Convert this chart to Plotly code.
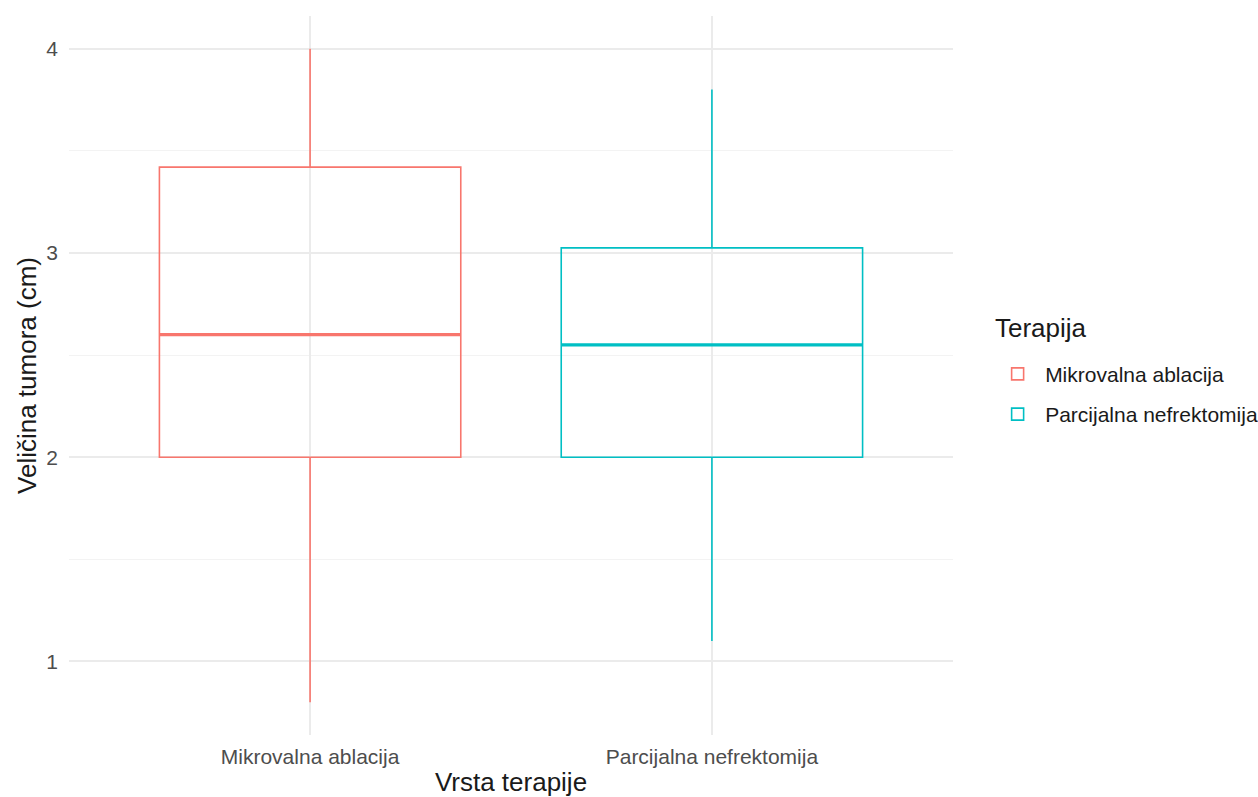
import plotly.graph_objects as go

categories = ["Mikrovalna ablacija", "Parcijalna nefrektomija"]
colors = ["#F8766D", "#00BFC4"]
lower_whisker = [0.80, 1.10]
q1 = [2.00, 2.00]
median = [2.60, 2.55]
q3 = [3.42, 3.025]
upper_whisker = [4.00, 3.80]
y_ticks = [1, 2, 3, 4]
legend_title = "Terapija"

box_width = 0.75
font_family = "Liberation Sans, Arial, sans-serif"

fig = go.Figure()
for i, cat in enumerate(categories):
    xpos = i + 1
    fig.add_trace(go.Box(
        x=[xpos], q1=[q1[i]], median=[median[i]], q3=[q3[i]],
        lowerfence=[lower_whisker[i]], upperfence=[upper_whisker[i]],
        name=cat, legendgroup=cat,
        line=dict(color=colors[i], width=1.6),
        fillcolor="rgba(255,255,255,0)",
        width=box_width, whiskerwidth=0, boxpoints=False,
    ))
    # thicker median line (ggplot fatten)
    fig.add_trace(go.Scatter(
        x=[xpos - box_width / 2, xpos + box_width / 2],
        y=[median[i], median[i]],
        mode="lines", line=dict(color=colors[i], width=3.2),
        showlegend=False, legendgroup=cat, hoverinfo="skip",
    ))

fig.add_annotation(
    text=legend_title, xref="paper", yref="paper",
    x=1.045, y=0.566, xanchor="left", yanchor="middle",
    showarrow=False, font=dict(size=26, color="#1A1A1A"),
)

fig.update_layout(
    width=1258, height=797,
    paper_bgcolor="white", plot_bgcolor="white",
    margin=dict(l=69, r=305, t=16, b=62, autoexpand=False),
    boxmode="overlay",
    font=dict(family=font_family, color="#4D4D4D"),
    legend=dict(
        font=dict(size=21, color="#1A1A1A"),
        x=1.042, xanchor="left", y=0.474, yanchor="middle",
        tracegroupgap=10, itemwidth=45,
    ),
    xaxis=dict(
        range=[0.4, 2.6], tickvals=[1, 2], ticktext=categories,
        showgrid=True, gridcolor="#EBEBEB", gridwidth=1.6,
        zeroline=False, showline=False, ticks="",
        tickfont=dict(size=21, color="#4D4D4D"),
        ticklabelstandoff=7,
        title=dict(text="Vrsta terapije", font=dict(size=26, color="#1A1A1A"), standoff=10),
    ),
    yaxis=dict(
        range=[0.64, 4.16], tickvals=y_ticks,
        showgrid=True, gridcolor="#EBEBEB", gridwidth=1.6,
        minor=dict(tick0=0.5, dtick=1, showgrid=True, gridcolor="#F3F3F3", gridwidth=0.9),
        zeroline=False, showline=False, ticks="",
        tickfont=dict(size=21, color="#4D4D4D"),
        ticklabelstandoff=10,
        title=dict(text="Veličina tumora (cm)", font=dict(size=26, color="#1A1A1A"), standoff=2),
    ),
)

fig.write_html("out.html", config={"displayModeBar": False},
               post_script="document.body.style.margin='0px';")
